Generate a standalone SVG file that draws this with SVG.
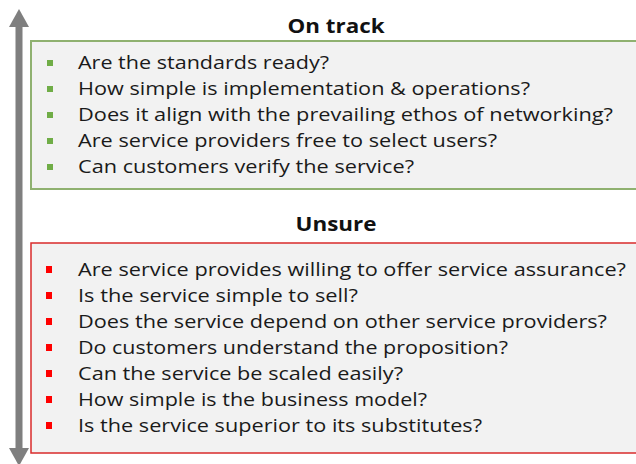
<svg xmlns="http://www.w3.org/2000/svg" width="636" height="464" viewBox="0 0 636 464">
<style>
.t{font-family:"Open Sans","Noto Sans",sans-serif;font-size:19px;fill:#1a1a1a}
.h{font-family:"Open Sans","Noto Sans",sans-serif;font-size:20px;font-weight:bold;fill:#111}
.gb{fill:#f2f2f2;stroke:#8fb170;stroke-width:2}
.rb{fill:#f2f2f2;stroke:#d92b2b;stroke-width:1.5}
.g{fill:#70ad47}
.r{fill:#ff0000}
</style>
<rect width="636" height="464" fill="#ffffff"/>
<g id="connectors">
<rect x="15.5" y="26" width="7" height="424" fill="#7f7f7f"/>
<polygon points="19,9 29,27 9,27" fill="#7f7f7f"/>
<polygon points="19,466 29,448 9,448" fill="#7f7f7f"/>
</g>
<g id="ontrack">
<text class="h" x="336" y="33" text-anchor="middle" textLength="97" lengthAdjust="spacingAndGlyphs">On track</text>
<rect class="gb" x="31" y="41" width="620" height="148"/>
<rect class="g" x="47" y="60" width="6" height="6"/>
<rect class="g" x="47" y="86" width="6" height="6"/>
<rect class="g" x="47" y="112" width="6" height="6"/>
<rect class="g" x="47" y="138" width="6" height="6"/>
<rect class="g" x="47" y="164" width="6" height="6"/>
<text class="t" x="78" y="69" textLength="251" lengthAdjust="spacingAndGlyphs">Are the standards ready?</text>
<text class="t" x="78" y="95" textLength="452" lengthAdjust="spacingAndGlyphs">How simple is implementation &amp; operations?</text>
<text class="t" x="78" y="121" textLength="535" lengthAdjust="spacingAndGlyphs">Does it align with the prevailing ethos of networking?</text>
<text class="t" x="78" y="147" textLength="419" lengthAdjust="spacingAndGlyphs">Are service providers free to select users?</text>
<text class="t" x="78" y="173" textLength="336" lengthAdjust="spacingAndGlyphs">Can customers verify the service?</text>
</g>
<g id="unsure">
<text class="h" x="336" y="231" text-anchor="middle" textLength="81" lengthAdjust="spacingAndGlyphs">Unsure</text>
<rect class="rb" x="31" y="243" width="620" height="210"/>
<rect class="r" x="46" y="266" width="6" height="7"/>
<rect class="r" x="46" y="292" width="6" height="7"/>
<rect class="r" x="46" y="318" width="6" height="7"/>
<rect class="r" x="46" y="344" width="6" height="7"/>
<rect class="r" x="46" y="370" width="6" height="7"/>
<rect class="r" x="46" y="396" width="6" height="7"/>
<rect class="r" x="46" y="422" width="6" height="7"/>
<text class="t" x="78" y="276" textLength="548" lengthAdjust="spacingAndGlyphs">Are service provides willing to offer service assurance?</text>
<text class="t" x="78" y="302" textLength="280" lengthAdjust="spacingAndGlyphs">Is the service simple to sell?</text>
<text class="t" x="78" y="328" textLength="529" lengthAdjust="spacingAndGlyphs">Does the service depend on other service providers?</text>
<text class="t" x="78" y="354" textLength="430" lengthAdjust="spacingAndGlyphs">Do customers understand the proposition?</text>
<text class="t" x="78" y="380" textLength="325" lengthAdjust="spacingAndGlyphs">Can the service be scaled easily?</text>
<text class="t" x="78" y="406" textLength="349" lengthAdjust="spacingAndGlyphs">How simple is the business model?</text>
<text class="t" x="78" y="432" textLength="404" lengthAdjust="spacingAndGlyphs">Is the service superior to its substitutes?</text>
</g>
</svg>
